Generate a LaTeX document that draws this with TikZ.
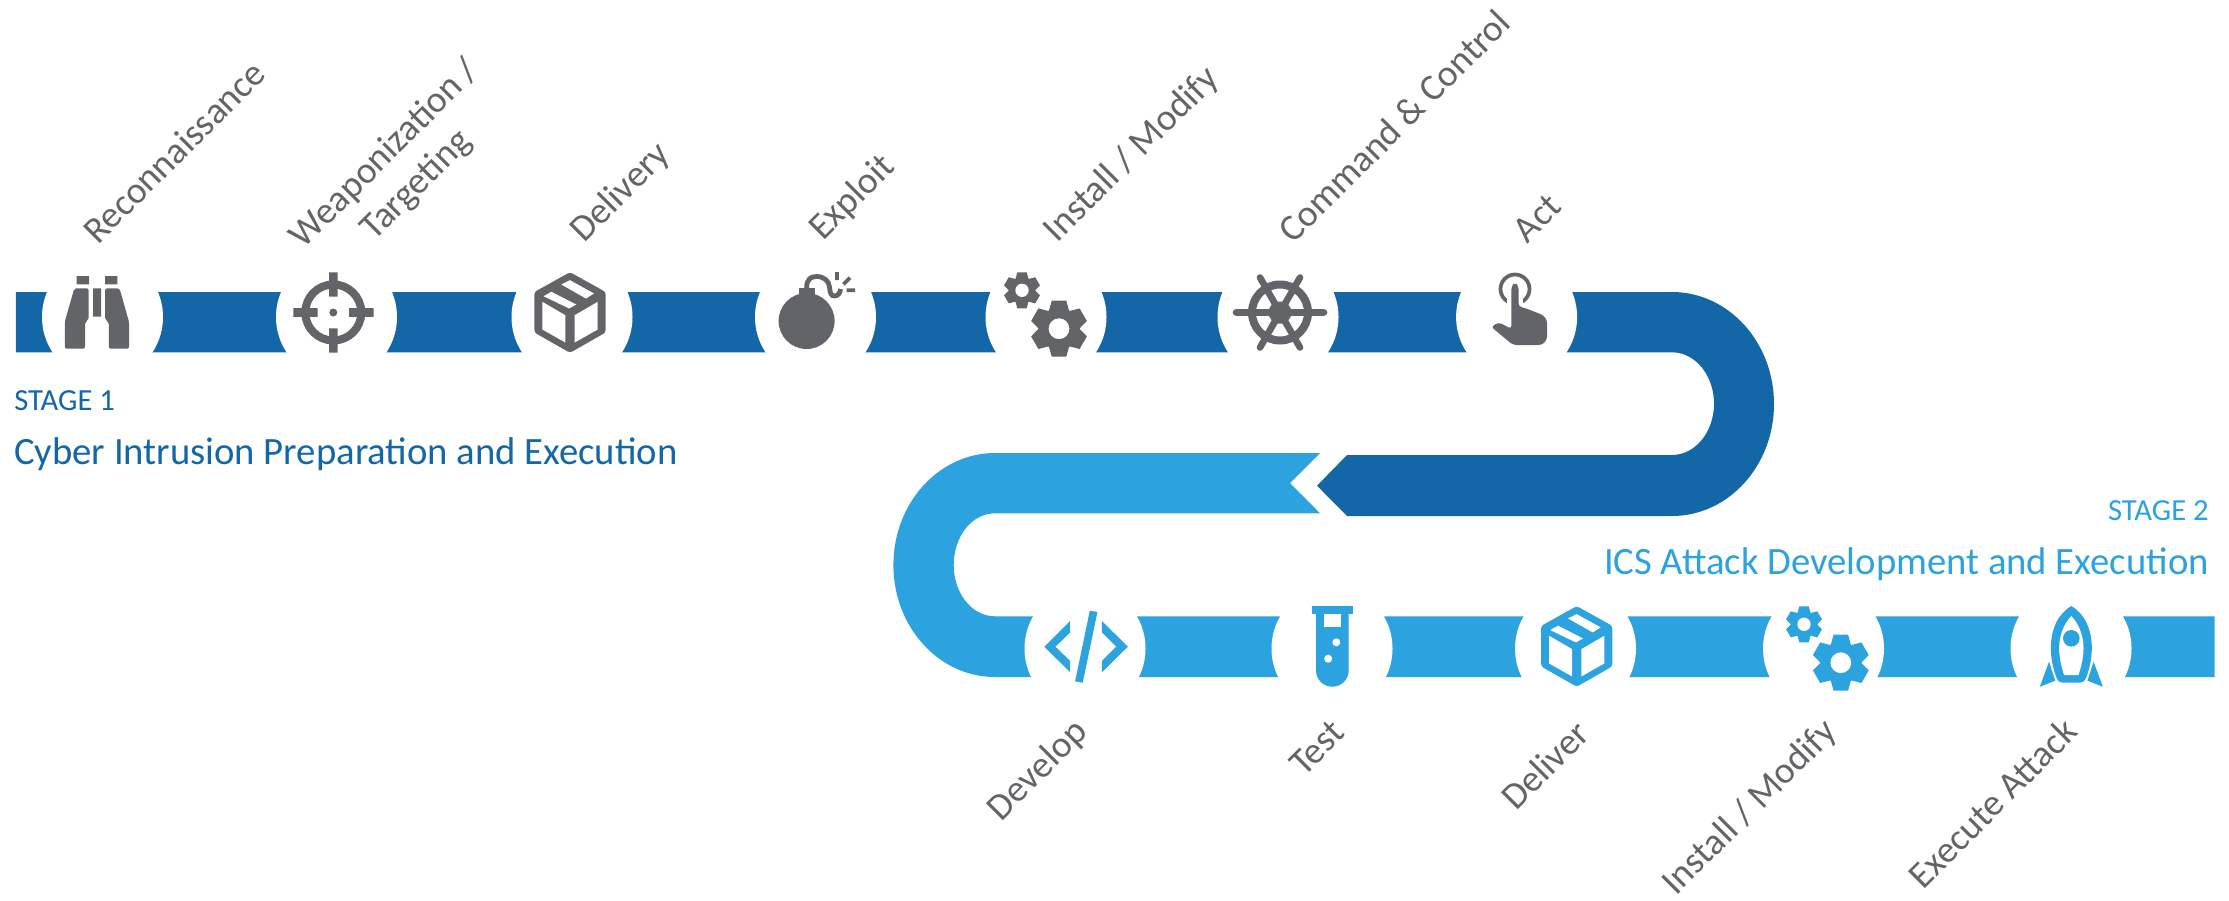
\documentclass[tikz,border=0pt]{standalone}
\usepackage{fontspec}
\setmainfont{Carlito}
\definecolor{darkband}{HTML}{1367A7}
\definecolor{lightband}{HTML}{2CA2DF}
\definecolor{icongrey}{HTML}{636467}
\newcommand{\gearicon}[4]{%
  \begin{scope}[shift={(#1,#2)},scale=#3]
    \fill[#4] (0,0) circle[radius=.74];
    \foreach \a in {0,60,...,300}{\fill[#4,rotate=\a] (-.37,.6) -- (-.26,1) -- (.26,1) -- (.37,.6) -- cycle;}
    \fill[white] (0,0) circle[radius=.37];
  \end{scope}}
\newcommand{\boxicon}[3]{%
  \begin{scope}[shift={(#1,#2)}]
    \fill[#3,rounded corners=2pt] (0,-40.3) -- (35.6,-20.5) -- (35.6,20) -- (0,40.3) -- (-35.6,20) -- (-35.6,-20.5) -- cycle;
    \fill[white] (-8.7,-28) -- (0,-32.3) -- (24,-19) -- (16,-14) -- cycle;
    \fill[white] (-18.6,-20.7) -- (6.3,-8) -- (-.8,-4) -- (-26.5,-16.3) -- cycle;
    \fill[white] (-27.7,-10.7) -- (-4.7,2.7) -- (-4.7,30) -- (-27.7,17) -- cycle;
    \fill[white] (27.7,-10.7) -- (4.7,2.7) -- (4.7,30) -- (27.7,17) -- cycle;
  \end{scope}}
\tikzset{
  x=.75pt,y=-.75pt,
  gap/.style={fill=white,draw=none},
  lab/.style={text=icongrey,font=\fontsize{28}{33}\selectfont,rotate=45,align=center,inner sep=0pt},
  stageA/.style={text=darkband,inner sep=0pt,anchor=base west},
  stageB/.style={text=lightband,inner sep=0pt,anchor=base east},
  small/.style={font=\fontsize{23}{27}\selectfont},
  big/.style={font=\fontsize{29}{33}\selectfont},
}
\begin{document}
\begin{tikzpicture}
\useasboundingbox (0,0) rectangle (2229,900);
\fill[white] (0,0) rectangle (2229,900);
% dark band
\fill[darkband] (15.8,292) -- (1672,292) .. controls (1728.3,292) and (1774,342.1) .. (1774,404) .. controls (1774,465.9) and (1728.3,516) .. (1672,516) -- (1347,516) -- (1317,485.7) -- (1347,455) -- (1672,455) .. controls (1695.2,455) and (1714,432) .. (1714,403.7) .. controls (1714,375.3) and (1695.2,352.3) .. (1672,352.3) -- (15.8,352.3) -- cycle;
% light band
\fill[lightband] (1320,453) -- (995,453) .. controls (938.9,453) and (893.4,503) .. (893.4,565) .. controls (893.4,627) and (938.9,677) .. (995,677) -- (2214.5,677) -- (2214.5,616.3) -- (995,616.3) .. controls (971.7,616.3) and (953.7,593) .. (953.7,565) .. controls (953.7,536.6) and (971.7,513.3) .. (995,513.3) -- (1320,513.3) -- (1290,483) -- cycle;
% white gaps
\foreach \c in {102.5,336.5,572,815.5,1046,1278,1516.6}{\fill[gap] (\c,317) ellipse[x radius=60.5,y radius=62.5];}
\foreach \c in {1085,1332,1575.5,1823.5,2071}{\fill[gap] (\c,648.5) ellipse[x radius=60.5,y radius=62.5];}
% binoculars
\fill[icongrey] (76.7,276) rectangle (89,284.3) (105,276) rectangle (117.4,284.3) (93,288.3) rectangle (101,316.7);
\fill[icongrey,rounded corners=1.5pt] (74.3,288.3) -- (88.6,288.3) -- (88.6,320) -- (85,322) -- (85,348.7) -- (64.8,348.7) -- (64.8,321.7) -- cycle;
\fill[icongrey,rounded corners=1.5pt] (119.5,288.3) -- (105.2,288.3) -- (105.2,320) -- (108.8,322) -- (108.8,348.7) -- (129,348.7) -- (129,321.7) -- cycle;
% target
\draw[icongrey,line width=6pt] (333.3,312.5) circle[radius=28];
\fill[icongrey] (329,272.3) rectangle (337.6,296.7) (329,328.3) rectangle (337.6,352.7) (293.4,308.2) rectangle (317.5,316.8) (349,308.2) rectangle (373.7,316.8);
\fill[icongrey] (333.3,312.5) circle[radius=4];
% box
\boxicon{570}{312.5}{icongrey}
% bomb
\fill[icongrey] (806.6,321) circle[radius=28];
\fill[icongrey] (798.7,288) rectangle (814.5,297);
\draw[icongrey,line width=3.6pt] (806.6,288) .. controls (806.6,279) and (811,276.5) .. (816.5,276.5) .. controls (824,276.5) and (829,281) .. (829.5,287) .. controls (830,293) and (831,296) .. (834.5,296) .. controls (838,296) and (840,293) .. (840.6,289);
\draw[icongrey,line width=2.8pt] (837,272) -- (837,280) (850,277.7) -- (843.4,284.3) (846.6,290.3) -- (855,290.3);
% gears
\gearicon{1022}{290.3}{18}{icongrey}
\gearicon{1059}{328.7}{28}{icongrey}
% wheel
\draw[icongrey,line width=6pt] (1280,312.5) circle[radius=28];
\draw[icongrey,line width=5pt,line cap=round] (1236,312.5) -- (1324,312.5) (1260,277.5) -- (1300,347.5) (1300,277.5) -- (1260,347.5);
\fill[icongrey] (1293,312.5) -- (1286.5,301.5) -- (1273.5,301.5) -- (1267,312.5) -- (1273.5,323.5) -- (1286.5,323.5) -- cycle;
% hand
\draw[icongrey,line width=2.8pt] (1515,289) circle[radius=14.5];
\fill[white] (1515,289) -- (1503,312) -- (1527,312) -- cycle;
\fill[white] (1507,285) rectangle (1523,312);
\fill[icongrey,rounded corners=2.5pt] (1511.4,329) -- (1499,322.3) -- (1491,326.7) -- (1513,345) -- (1541.8,345) -- (1547,340) -- (1547,320) -- (1543,315) -- (1524,307.7) -- (1518.6,306.7) -- (1518.6,286) -- (1515,282.5) -- (1511.4,286) -- cycle;
% code
\fill[lightband] (1070.2,621) -- (1044.3,646.7) -- (1070.2,672.3) -- (1070.2,661) -- (1055.4,646.7) -- (1070.2,632.3) -- cycle;
\fill[lightband] (1101.9,621) -- (1127.8,646.7) -- (1101.9,672.3) -- (1101.9,661) -- (1116.2,646.7) -- (1101.9,632.3) -- cycle;
\fill[lightband] (1089.8,610.7) -- (1097.4,612) -- (1082.7,682.7) -- (1075.1,681.3) -- cycle;
% test tube
\fill[lightband] (1312,606) rectangle (1352.8,614.3);
\fill[lightband] (1316,614) -- (1348.7,614) -- (1348.7,670) .. controls (1348.7,680) and (1341,686.7) .. (1332.3,686.7) .. controls (1323.6,686.7) and (1316,680) .. (1316,670) -- cycle;
\fill[white] (1324,614.3) rectangle (1340.7,626.7);
\fill[white] (1336.3,642.3) circle[radius=4] (1328.2,658.7) circle[radius=4];
% box
\boxicon{1576.7}{646.4}{lightband}
% gears
\gearicon{1804}{624.3}{18}{lightband}
\gearicon{1840.8}{662.7}{28}{lightband}
% rocket
\fill[lightband] (2049,661.7) -- (2039.8,686.7) -- (2055.2,680.7) -- cycle (2093.6,661.7) -- (2102.8,686.7) -- (2087.4,680.7) -- cycle;
\fill[lightband] (2071.3,606) .. controls (2085,614) and (2091.8,630) .. (2091.8,648) .. controls (2091.8,660) and (2089,670) .. (2086,678) .. controls (2085,681) and (2083,682.7) .. (2080,682.7) -- (2062.6,682.7) .. controls (2059.6,682.7) and (2057.6,681) .. (2056.6,678) .. controls (2053.6,670) and (2050.8,660) .. (2050.8,648) .. controls (2050.8,630) and (2057.6,614) .. (2071.3,606) -- cycle;
\fill[white] (2071.3,616) .. controls (2079,624) and (2083.5,636) .. (2083.5,648) .. controls (2083.5,658) and (2081,667) .. (2078.5,675) -- (2064,675) .. controls (2061.6,667) and (2059.1,658) .. (2059.1,648) .. controls (2059.1,636) and (2063.6,624) .. (2071.3,616) -- cycle;
\fill[lightband] (2071.3,638.3) circle[radius=8.3];
% labels
\node[lab] (l1) at (174,152) {Reconnaissance};
\node[lab] (l2) at (401,170) {Weaponization /\\Targeting};
\node[lab] (l3) at (621,193) {Delivery};
\node[lab] (l4) at (852.5,198) {Exploit};
\node[lab] (l5) at (1132,155) {Install / Modify};
\node[lab] (l6) at (1394,126) {Command \& Control};
\node[lab] (l7) at (1537,218) {Act};
\node[lab] (m1) at (1038,771) {Develop};
\node[lab] (m2) at (1317,748) {Test};
\node[lab] (m3) at (1545,765) {Deliver};
\node[lab] (m4) at (1750.5,808) {Install / Modify};
\node[lab] (m5) at (1992.5,803) {Execute Attack};
% stage text
\node[stageA,small] (s1) at (14,410) {STAGE 1};
\node[stageA,big] (s1t) at (14,464.5) {Cyber Intrusion Preparation and Execution};
\node[stageB,small] (s2) at (2209,520) {STAGE 2};
\node[stageB,big] (s2t) at (2209,574.5) {ICS Attack Development and Execution};
\end{tikzpicture}
\end{document}
